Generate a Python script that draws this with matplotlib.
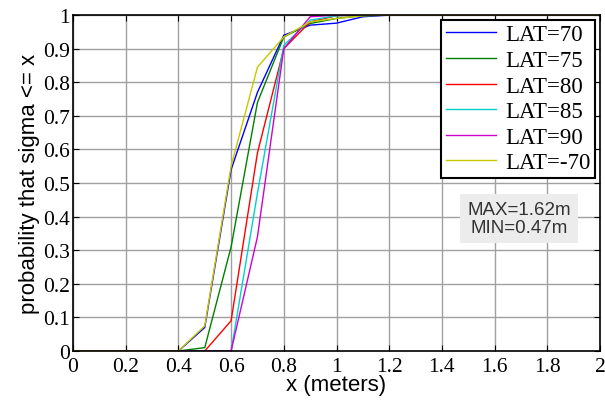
import matplotlib
matplotlib.use("Agg")
import matplotlib.pyplot as plt
import numpy as np

x = np.round(np.arange(0, 2.01, 0.1), 1)
lat70 = [0, 0, 0, 0, 0, 0.07, 0.54, 0.77, 0.94, 0.97, 0.976, 0.995, 1, 1, 1, 1, 1, 1, 1, 1, 1]
lat75 = [0, 0, 0, 0, 0, 0.01, 0.31, 0.74, 0.935, 0.975, 0.99, 0.998, 1, 1, 1, 1, 1, 1, 1, 1, 1]
lat80 = [0, 0, 0, 0, 0, 0.0, 0.09, 0.59, 0.90, 0.98, 0.998, 1, 1, 1, 1, 1, 1, 1, 1, 1, 1]
lat85 = [0, 0, 0, 0, 0, 0.0, 0.0, 0.47, 0.91, 0.985, 0.998, 1, 1, 1, 1, 1, 1, 1, 1, 1, 1]
lat90 = [0, 0, 0, 0, 0, 0.0, 0.0, 0.34, 0.90, 0.995, 1, 1, 1, 1, 1, 1, 1, 1, 1, 1, 1]
latm70 = [0, 0, 0, 0, 0, 0.075, 0.55, 0.845, 0.935, 0.98, 0.99, 0.998, 1, 1, 1, 1, 1, 1, 1, 1, 1]

series = [("LAT=70", lat70, "#0000ff"), ("LAT=75", lat75, "#008000"),
          ("LAT=80", lat80, "#ff0000"), ("LAT=85", lat85, "#00d0d0"),
          ("LAT=90", lat90, "#d000d0"), ("LAT=-70", latm70, "#c8c800")]

xticks = [0, 0.2, 0.4, 0.6, 0.8, 1, 1.2, 1.4, 1.6, 1.8, 2]
xticklabels = ["0", "0.2", "0.4", "0.6", "0.8", "1", "1.2", "1.4", "1.6", "1.8", "2"]
yticks = [0, 0.1, 0.2, 0.3, 0.4, 0.5, 0.6, 0.7, 0.8, 0.9, 1]
yticklabels = ["0", "0.1", "0.2", "0.3", "0.4", "0.5", "0.6", "0.7", "0.8", "0.9", "1"]

fig = plt.figure(figsize=(6.05, 4.02), dpi=100)
ax = fig.add_axes([0.1207, 0.1244, 0.871, 0.8356])
for name, vals, col in series:
    ax.plot(x, vals, color=col, lw=1.0, label=name)
ax.set_xlim(0, 2)
ax.set_ylim(0, 1)
ax.set_xticks(xticks)
ax.set_xticklabels(xticklabels, family="Liberation Serif", fontsize=15.5)
ax.set_yticks(yticks)
ax.set_yticklabels(yticklabels, family="Liberation Serif", fontsize=15.5)
ax.tick_params(direction="in", length=4, top=True, right=True)
ax.tick_params(axis="x", pad=4)
ax.tick_params(axis="y", pad=2)
ax.grid(True, color="#a0a0a0", lw=1.0)
for s in ax.spines.values():
    s.set_linewidth(1.2)
ax.set_xlabel("x (meters)", family="Liberation Sans", fontsize=16, labelpad=-1)
ax.set_ylabel("probability that sigma <= x", family="Liberation Sans", fontsize=16, labelpad=2)
leg = ax.legend(loc="upper right", prop={"family": "Liberation Serif", "size": 16.5},
                fancybox=False, edgecolor="black", framealpha=1, borderaxespad=0.2,
                handlelength=2.2, handletextpad=0.4, labelspacing=0.2, borderpad=0.2)
leg.get_frame().set_linewidth(1.5)
ax.text(0.846, 0.394, "MAX=1.62m\nMIN=0.47m", transform=ax.transAxes, ha="center", va="center",
        family="Liberation Sans", fontsize=13.5, color="#333333", linespacing=1.05,
        bbox=dict(boxstyle="square,pad=0.4", facecolor="#ececec", edgecolor="none"))
fig.savefig("out.png", dpi=100)
